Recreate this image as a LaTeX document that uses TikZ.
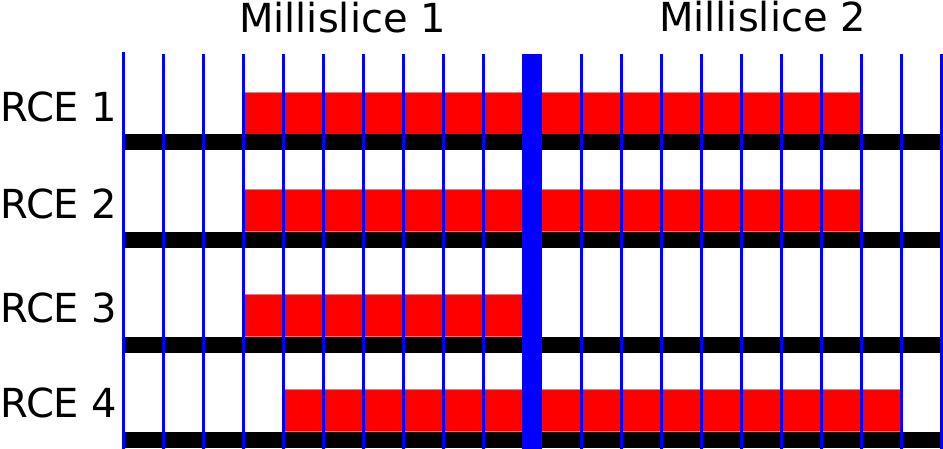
\documentclass[tikz,border=0pt]{standalone}
\usepackage{fontspec}
\setmainfont{DejaVu Sans}
\usetikzlibrary{positioning}

\begin{document}
\begin{tikzpicture}[
  x=1pt, y=-1pt,
  cell/.style={fill=red, draw=red!55!white, line width=0.6pt},
  track/.style={fill=black},
  gridline/.style={draw=blue, line width=3pt},
  rcetext/.style={font=\fontsize{40}{48}\selectfont, inner sep=0pt}
]
  \useasboundingbox (0,0) rectangle (943,449);

  % Titles
  \node[rcetext, anchor=base] (ms1) at (342.5,33) {Millislice 1};
  \node[rcetext, anchor=base] (ms2) at (762.5,32) {Millislice 2};

  % RCE 1
  \node[rcetext, anchor=base west] (rce1) at (0,121.5) {RCE 1};
  \foreach \k in {3,...,9} \draw[cell] ({123+40*\k},92) rectangle ++(40,42);
  \foreach \k in {0,...,7} \draw[cell] ({541+40*\k},92) rectangle ++(40,42);
  \fill[track] (123,134) rectangle (941,150);

  % RCE 2
  \node[rcetext, anchor=base west] (rce2) at (0,218.5) {RCE 2};
  \foreach \k in {3,...,9} \draw[cell] ({123+40*\k},189) rectangle ++(40,42);
  \foreach \k in {0,...,7} \draw[cell] ({541+40*\k},189) rectangle ++(40,42);
  \fill[track] (123,232) rectangle (941,248);

  % RCE 3
  \node[rcetext, anchor=base west] (rce3) at (0,323) {RCE 3};
  \foreach \k in {3,...,9} \draw[cell] ({123+40*\k},294) rectangle ++(40,42);
  \fill[track] (123,337) rectangle (941,353);

  % RCE 4
  \node[rcetext, anchor=base west] (rce4) at (0,417) {RCE 4};
  \foreach \k in {4,...,9} \draw[cell] ({123+40*\k},389) rectangle ++(40,42);
  \foreach \k in {0,...,8} \draw[cell] ({541+40*\k},389) rectangle ++(40,42);
  \fill[track] (123,432) rectangle (941,448);

  % Grid lines
  \draw[gridline] (123,52) -- (123,449);
  \foreach \k in {1,...,9} \draw[gridline] ({123+40*\k},54) -- ({123+40*\k},449);
  \foreach \k in {1,...,10} \draw[gridline] ({541+40*\k},54) -- ({541+40*\k},449);
  \fill[blue] (522,54) rectangle (542,449);
\end{tikzpicture}
\end{document}
